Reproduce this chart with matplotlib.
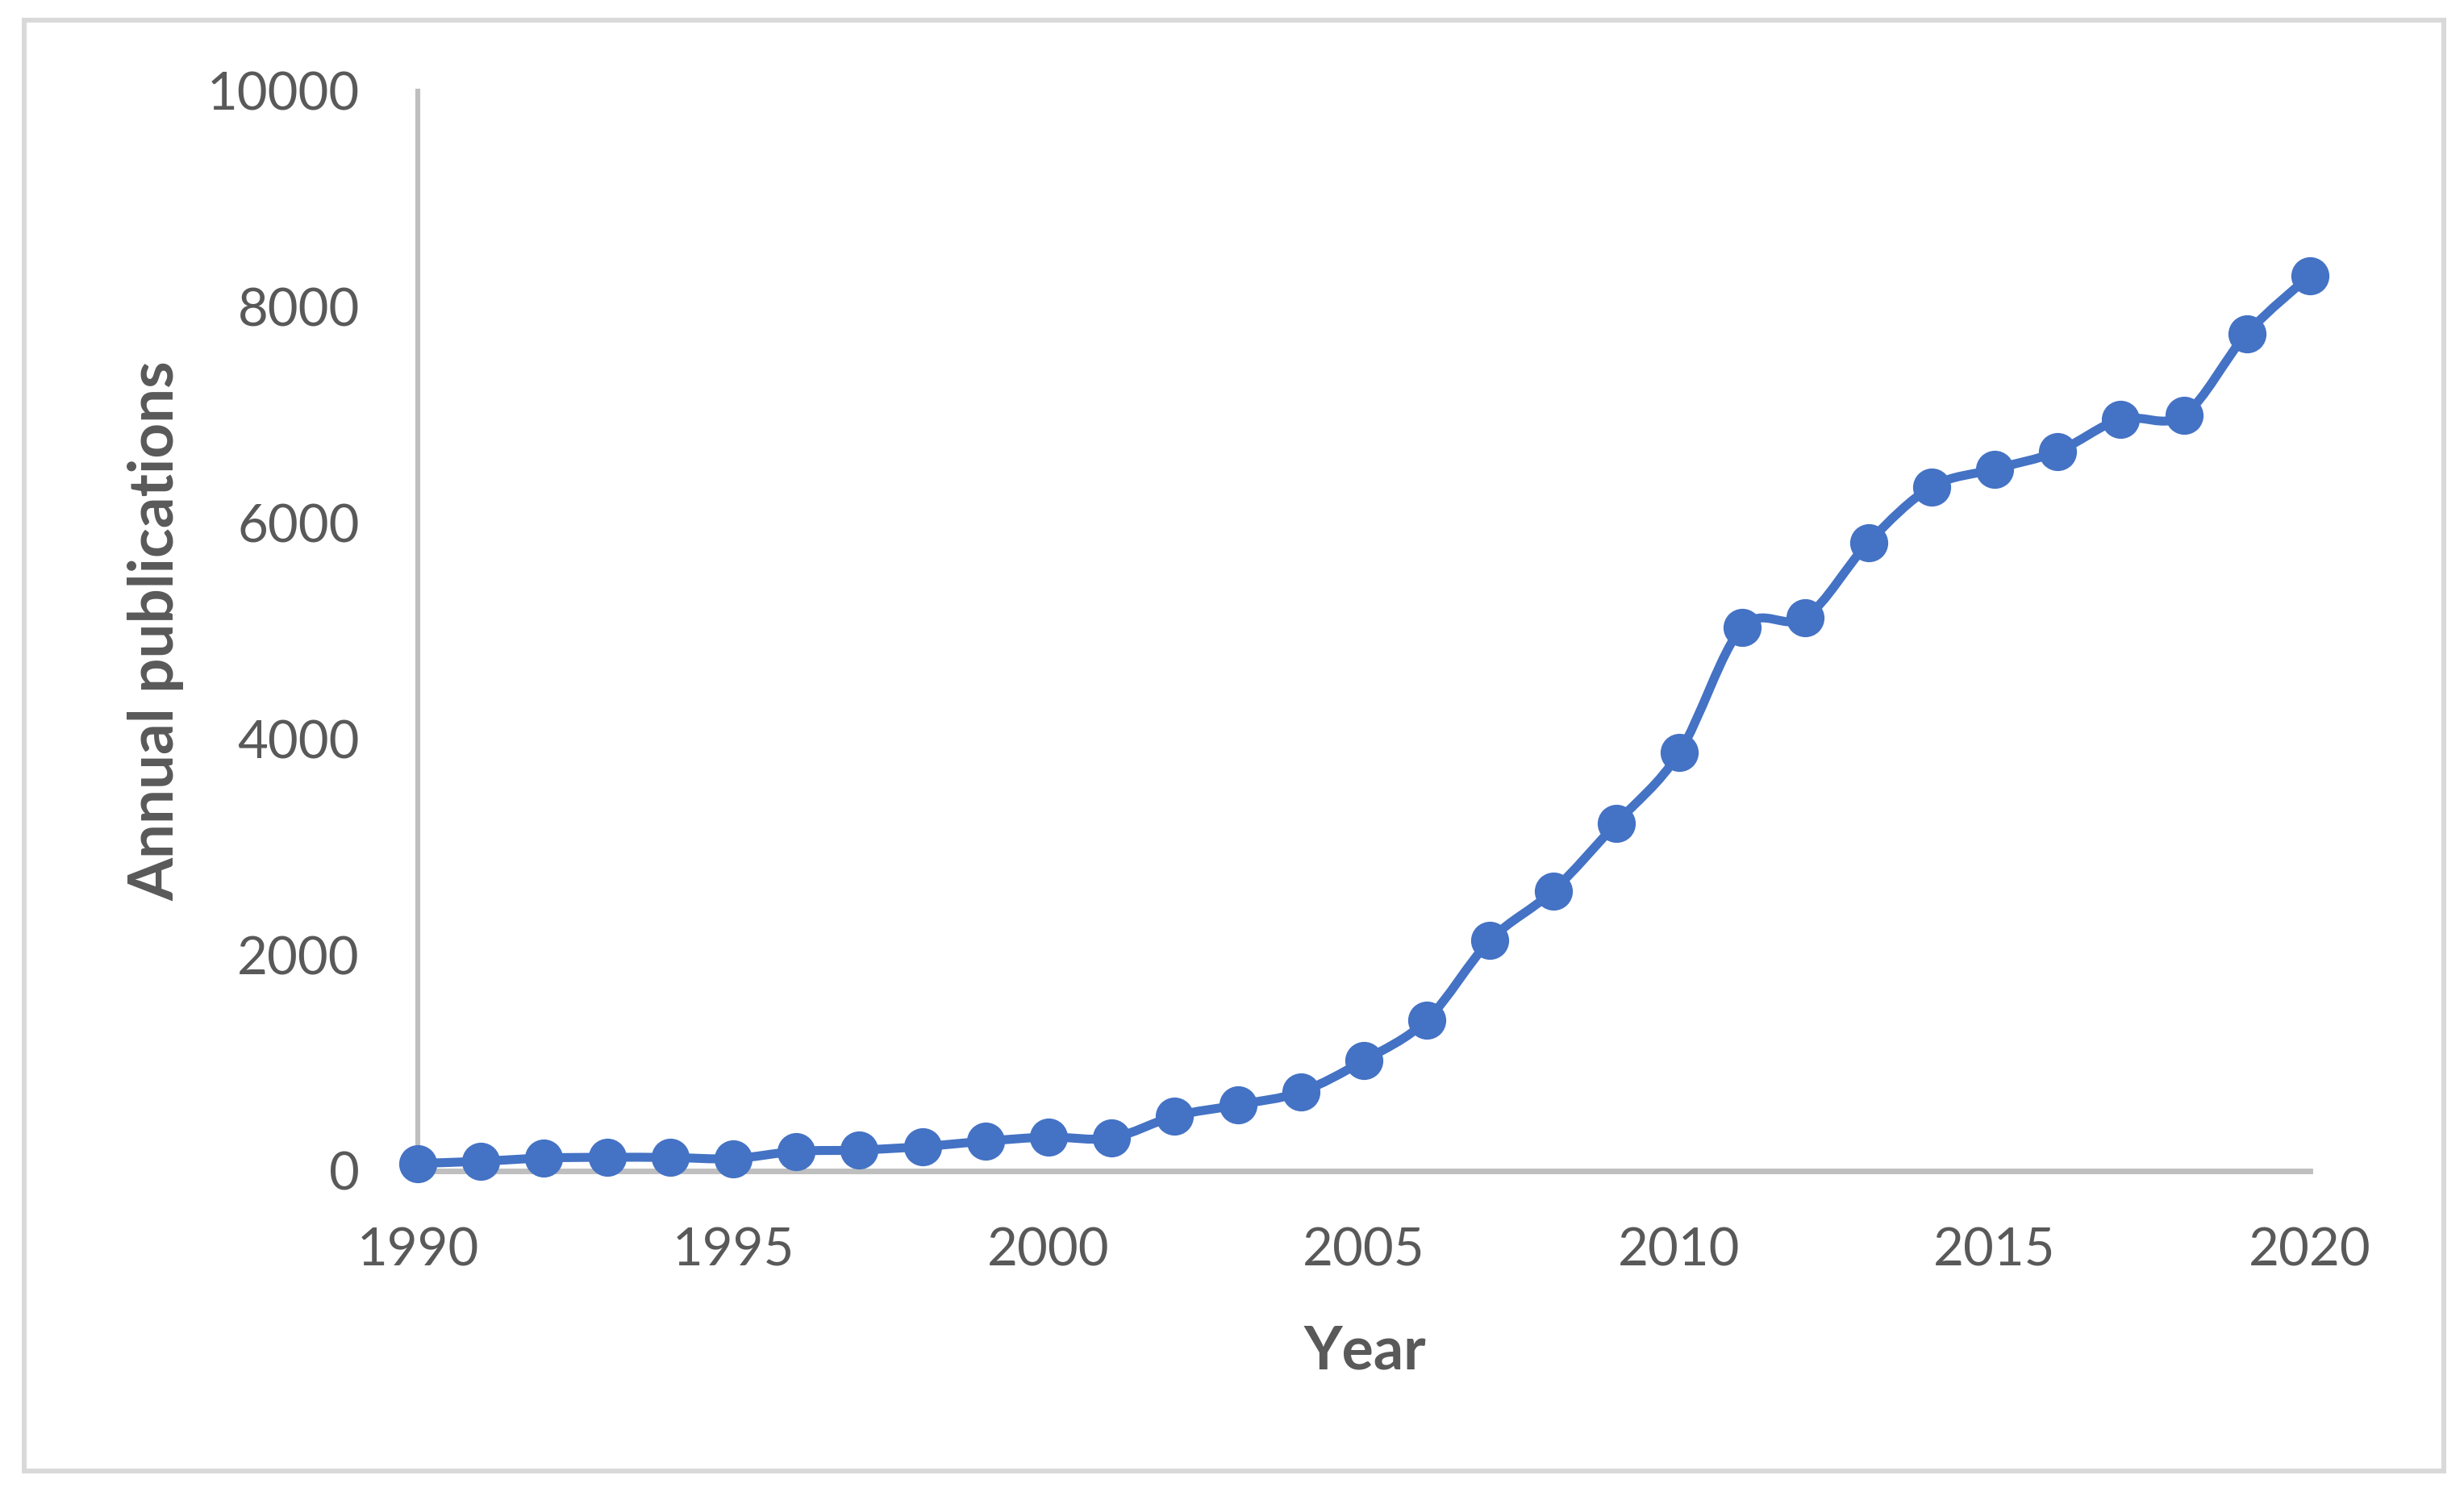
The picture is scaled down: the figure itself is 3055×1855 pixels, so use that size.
import matplotlib.pyplot as plt
from matplotlib.path import Path
from matplotlib.patches import PathPatch, Rectangle

# Data
years = list(range(1990, 2021))
publications = [70, 90, 120, 127, 125, 115, 182, 194, 226, 276,
                314, 306, 508, 612, 732, 1023, 1399, 2136, 2594, 3219,
                3873, 5035, 5125, 5820, 6335, 6500, 6663, 6963, 7000, 7755,
                8293]
x_ticks = [1990, 1995, 2000, 2005, 2010, 2015, 2020]
y_ticks = [0, 2000, 4000, 6000, 8000, 10000]

blue = '#4472C4'
text_gray = '#595959'
axis_gray = '#BFBFBF'

plt.rcParams['font.family'] = ['Lato', 'DejaVu Sans']

W, H = 3055, 1855
fig = plt.figure(figsize=(W / 100, H / 100), dpi=100)
ax = fig.add_axes([518 / W, 1 - 1452 / H, (2864 - 518) / W, (1452 - 113) / H])

# smoothed line (Catmull-Rom through the points, like Excel's smoothed line)
pts = list(zip(years, publications))
verts = [pts[0]]
codes = [Path.MOVETO]
for i in range(len(pts) - 1):
    p0 = pts[i - 1] if i > 0 else pts[i]
    p1 = pts[i]
    p2 = pts[i + 1]
    p3 = pts[i + 2] if i + 2 < len(pts) else pts[i + 1]
    c1 = (p1[0] + (p2[0] - p0[0]) / 6, p1[1] + (p2[1] - p0[1]) / 6)
    c2 = (p2[0] - (p3[0] - p1[0]) / 6, p2[1] - (p3[1] - p1[1]) / 6)
    verts += [c1, c2, p2]
    codes += [Path.CURVE4] * 3
ax.add_patch(PathPatch(Path(verts, codes), fill=False, edgecolor=blue,
                       lw=8, capstyle='round', joinstyle='round',
                       zorder=3, clip_on=False))
ax.plot(years, publications, 'o', color=blue, markersize=34,
        markeredgewidth=0, zorder=4, clip_on=False)

ax.set_xlim(1990, 2020)
ax.set_ylim(0, 10000)
ax.set_xticks(x_ticks)
ax.set_yticks(y_ticks)
ax.tick_params(length=0, labelsize=47, labelcolor=text_gray)
ax.tick_params(axis='y', pad=52)
ax.tick_params(axis='x', pad=50)

for s in ['top', 'right']:
    ax.spines[s].set_visible(False)
ax.spines['left'].set_color(axis_gray)
ax.spines['left'].set_linewidth(4.4)
ax.spines['bottom'].set_color(axis_gray)
ax.spines['bottom'].set_linewidth(5)

fig.text(1692 / W, 1 - 1698 / H, 'Year', ha='center', va='baseline',
         fontsize=53, fontweight='bold', color=text_gray)
fig.text(193 / W, 1 - 782 / H, 'Annual publications', rotation=90,
         ha='center', va='center', fontsize=55, fontweight='bold',
         color=text_gray)

# chart area border
fig.patches.append(Rectangle((30 / W, 1 - 1824 / H), 3000 / W, 1799 / H,
                             transform=fig.transFigure, fill=False,
                             edgecolor='#D9D9D9', lw=4.3))

fig.savefig('out.png', dpi=100)
